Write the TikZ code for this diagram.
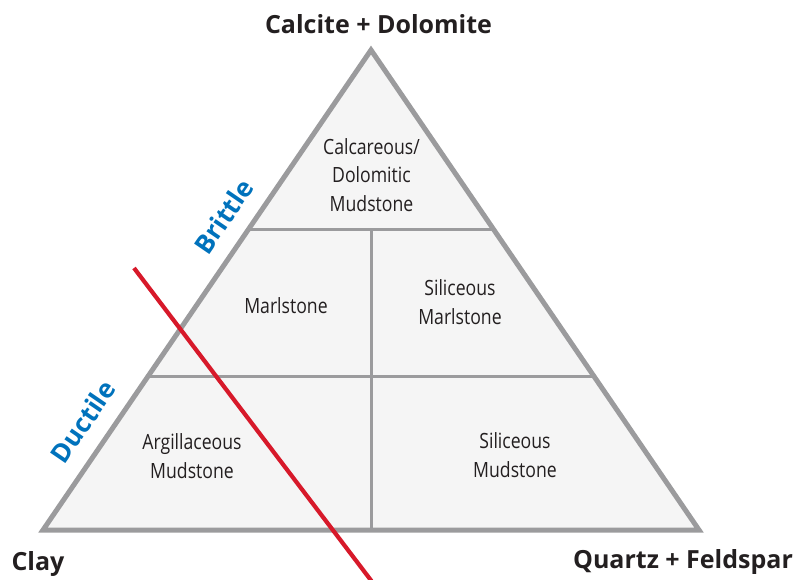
\documentclass[tikz,border=0pt]{standalone}
\usepackage{fontspec}
\setmainfont{Open Sans}
\newfontfamily\fieldfont[FakeStretch=0.84]{Open Sans}
\usetikzlibrary{calc}

\definecolor{fieldfill}{RGB}{245,245,245}
\definecolor{edgegray}{RGB}{155,155,157}
\definecolor{inkblack}{RGB}{35,31,32}
\definecolor{behaviourblue}{RGB}{0,114,188}
\definecolor{cutred}{RGB}{215,25,42}

\tikzset{
  outline/.style={draw=edgegray, line width=5pt, line join=miter},
  divider/.style={draw=edgegray, line width=3pt},
  endmember/.style={font=\fontsize{25}{30}\selectfont\bfseries, text=inkblack, inner sep=0pt, anchor=base},
  field/.style={font=\fieldfont\fontsize{21}{28.5}\selectfont, text=inkblack, align=center, inner sep=0pt},
  behaviour/.style={font=\fontsize{26}{30}\selectfont\bfseries, text=behaviourblue, inner sep=0pt, rotate=55.6},
  boundary/.style={draw=cutred, line width=4.2pt}
}

\begin{document}
\begin{tikzpicture}[x=1pt, y=-1pt]
  \useasboundingbox (0,0) rectangle (797,579);

  % corners of the ternary plot
  \coordinate (apex)  at (371,50);
  \coordinate (clay)  at (43,530);
  \coordinate (qf)    at (699,530);

  % ends of the two horizontal dividers
  \coordinate (upL) at ($(clay)!0.627!(apex)$);
  \coordinate (upR) at ($(qf)!0.627!(apex)$);
  \coordinate (midL) at ($(clay)!0.319!(apex)$);
  \coordinate (midR) at ($(qf)!0.319!(apex)$);
  \coordinate (upC) at ($(upL)!0.5!(upR)$);
  \coordinate (baseC) at ($(clay)!0.5!(qf)$);

  % ductile/brittle cut-off
  \coordinate (cutTop) at (134,268);
  \coordinate (cutBot) at (371.5,581);

  \fill[fieldfill] (apex) -- (clay) -- (qf) -- cycle;
  \draw[divider] (upL) -- (upR);
  \draw[divider] (midL) -- (midR);
  \draw[divider] (upC) -- (baseC);
  \draw[outline] (apex) -- (clay) -- (qf) -- cycle;
  \draw[boundary] (cutTop) -- (cutBot);

  % end members
  \node[endmember] (tCD) at (378.5,33) {Calcite + Dolomite};
  \node[endmember] (tClay) at (38,570) {Clay};
  \node[endmember] (tQF) at (683,568) {Quartz + Feldspar};

  % rock classes
  \node[field] (calc) at (371.5,175) {Calcareous/\\Dolomitic\\Mudstone};
  \node[field] (marl) at (286,306) {Marlstone};
  \node[field] (smarl) at (460,302) {Siliceous\\Marlstone};
  \node[field] (argm) at (192,456) {Argillaceous\\Mudstone};
  \node[field] (silm) at (515,455) {Siliceous\\Mudstone};

  % mechanical behaviour along the clay side
  \node[behaviour] (brittle) at (223.5,216.5) {Brittle};
  \node[behaviour] (ductile) at (83,421.5) {Ductile};
\end{tikzpicture}
\end{document}
